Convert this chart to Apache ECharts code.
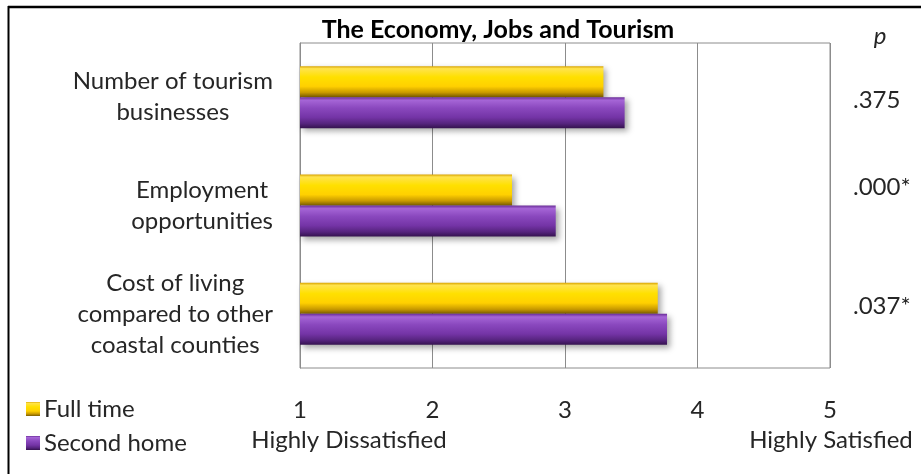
<!DOCTYPE html>
<html>
<head>
<meta charset="utf-8">
<script src="https://cdn.jsdelivr.net/npm/echarts@6/dist/echarts.min.js"></script>
<style>
  html, body { margin: 0; padding: 0; background: #fff; }
  #chart { width: 921px; height: 474px; }
</style>
</head>
<body>
<div id="chart"></div>
<script>
// Satisfaction items (top to bottom)
const categories = [
  'Number of tourism\nbusinesses',
  'Employment\nopportunities',
  'Cost of living\ncompared to other\ncoastal counties'
];
// Mean satisfaction scores (1 = Highly Dissatisfied, 5 = Highly Satisfied)
const fullTime = [3.29, 2.60, 3.70];
const secondHome = [3.45, 2.93, 3.77];
// Significance of the difference between groups
const pValues = ['.375', '.000*', '.037*'];
const scaleTicks = [1, 2, 3, 4, 5];

const FONT = 'Lato, "Open Sans", sans-serif';
const FS = 24;
const TEXT = '#262626';

const goldFill = new echarts.graphic.LinearGradient(0, 0, 0, 1, [
  { offset: 0, color: '#D9A400' },
  { offset: 0.08, color: '#FFE34D' },
  { offset: 0.35, color: '#FFE000' },
  { offset: 0.65, color: '#FFD000' },
  { offset: 0.85, color: '#C99A00' },
  { offset: 1, color: '#7A5C00' }
]);
const purpleFill = new echarts.graphic.LinearGradient(0, 0, 0, 1, [
  { offset: 0, color: '#6A2E98' },
  { offset: 0.1, color: '#A565D6' },
  { offset: 0.35, color: '#8A48BE' },
  { offset: 0.65, color: '#7434A6' },
  { offset: 0.85, color: '#56247E' },
  { offset: 1, color: '#35124F' }
]);

const chart = echarts.init(document.getElementById('chart'), null, { renderer: 'canvas' });

// p-value labels sit beside each item group
const pPos = [100, 187, 306];

const option = {
  animation: false,
  backgroundColor: '#ffffff',
  title: {
    text: 'The Economy, Jobs and Tourism',
    left: 493,
    top: 12,
    textAlign: 'center',
    textStyle: { fontFamily: FONT, fontWeight: 'bold', fontSize: 25, color: '#000' }
  },
  legend: {
    orient: 'vertical',
    left: 21,
    top: 392,
    itemWidth: 14,
    itemHeight: 14,
    itemGap: 10,
    icon: 'rect',
    data: ['Full time', 'Second home'],
    textStyle: { fontFamily: FONT, fontSize: FS, color: TEXT, padding: [0, 0, 0, -1] }
  },
  grid: {
    left: 300, right: 91, top: 43, bottom: 106,
    show: true, borderColor: '#8C8C8C', borderWidth: 1
  },
  xAxis: {
    type: 'value',
    min: scaleTicks[0],
    max: scaleTicks[scaleTicks.length - 1],
    interval: 1,
    axisLine: { show: false },
    axisTick: { show: false },
    splitLine: { show: true, lineStyle: { color: '#8C8C8C', width: 1 } },
    axisLabel: {
      margin: 30,
      fontFamily: FONT, fontSize: FS, color: TEXT
    }
  },
  yAxis: {
    type: 'category',
    inverse: true,
    data: categories,
    axisLine: { show: true, lineStyle: { color: '#8C8C8C' } },
    axisTick: { show: false },
    axisLabel: {
      margin: 27,
      align: 'right',
      lineHeight: 31,
      formatter: v => v.split('\n').map(l => '{c|' + l + '}').join('\n'),
      rich: {
        c: { align: 'center', fontFamily: FONT, fontSize: FS, color: TEXT, lineHeight: 31 }
      }
    }
  },
  series: [
    {
      name: 'Full time',
      type: 'bar',
      data: fullTime,
      barWidth: 31,
      barGap: '0%',
      itemStyle: {
        color: goldFill,
        shadowColor: 'rgba(0,0,0,0.35)', shadowBlur: 6, shadowOffsetX: 3, shadowOffsetY: 3
      }
    },
    {
      name: 'Second home',
      type: 'bar',
      data: secondHome,
      barWidth: 31,
      barGap: '0%',
      itemStyle: {
        color: purpleFill,
        shadowColor: 'rgba(0,0,0,0.35)', shadowBlur: 6, shadowOffsetX: 3, shadowOffsetY: 3
      }
    }
  ],
  graphic: [
    // outer frame (top and left rules)
    { type: 'line', shape: { x1: 8, y1: 7, x2: 921, y2: 7 }, style: { stroke: '#000', lineWidth: 2.5 } },
    { type: 'line', shape: { x1: 8.5, y1: 6, x2: 8.5, y2: 474 }, style: { stroke: '#000', lineWidth: 2 } },
    { type: 'text', x: 880, y: 36, style: { text: 'p', fontFamily: FONT, fontStyle: 'italic', fontSize: FS, fill: TEXT, align: 'center', verticalAlign: 'middle' } },
    ...pValues.map((t, i) => ({
      type: 'text', x: 853, y: pPos[i],
      style: { text: t, fontFamily: FONT, fontSize: FS, fill: TEXT, align: 'left', verticalAlign: 'middle' }
    })),
    { type: 'text', x: 349, y: 440, style: { text: 'Highly Dissatisfied', fontFamily: FONT, fontSize: FS, fill: TEXT, align: 'center', verticalAlign: 'middle' } },
    { type: 'text', x: 831, y: 440, style: { text: 'Highly Satisfied', fontFamily: FONT, fontSize: FS, fill: TEXT, align: 'center', verticalAlign: 'middle' } }
  ]
};

chart.setOption(option);
</script>
</body>
</html>
